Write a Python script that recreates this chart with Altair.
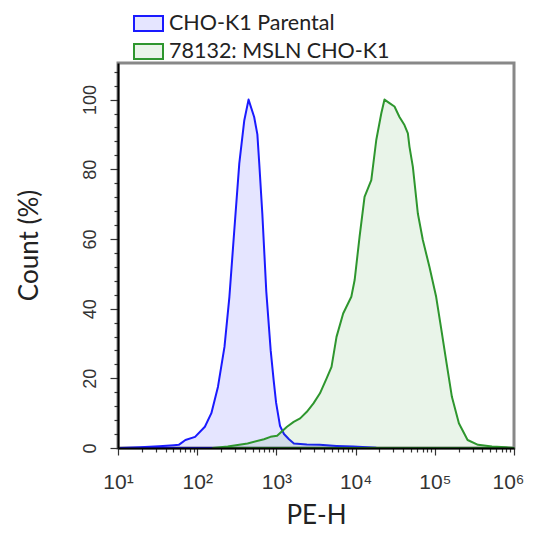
import altair as alt
import pandas as pd

# ---- data ----
series_names = ["CHO-K1 Parental", "78132: MSLN CHO-K1"]

parental_pe = [10.8, 19, 33, 51, 58.5, 71, 94, 125, 151, 183,
               221, 255, 294, 340, 393, 445, 524, 575, 610, 664,
               745, 847, 923, 991, 1112, 1247, 1442, 1663, 2421, 3516,
               5741, 9354, 18240, 58080]
parental_count = [0, 0.2, 0.5, 0.8, 0.9, 2.3, 3.2, 6.1, 10, 17.6,
                  29, 43.4, 62.5, 81.7, 94, 100, 95, 90, 81, 67.3,
                  45, 28, 19.5, 13, 6.3, 4, 2.5, 1.3, 1, 0.9,
                  0.6, 0.4, 0.1, 0]

msln_pe = [158, 243, 432, 697, 841, 1021, 1361, 1652, 1995, 2421,
           2938, 3548, 4305, 4966, 5741, 6966, 8831, 9727, 11220, 12970,
           15780, 18240, 21090, 23170, 26790, 30970, 35810, 41400, 45710, 47860,
           52840, 61090, 70630, 85510, 104000, 121100, 140900, 164400, 201400, 259400,
           351600, 527200, 792500, 990000]
msln_count = [0, 0.4, 1.3, 2.5, 3.2, 3.5, 6.1, 7.5, 8.5, 10.4,
              12.8, 15.7, 20, 23.3, 31.9, 38.6, 43.4, 48.2, 60.6, 72.1,
              76.9, 88.4, 96, 100, 99, 98, 95, 92.7, 90.3, 86.5,
              80.7, 67.3, 59.7, 52, 43.4, 33.9, 24.3, 14.7, 7.1, 2.3,
              0.9, 0.4, 0.2, 0]

x_major = [10, 100, 1000, 10000, 100000, 1000000]
x_major_labels = ["10¹", "10²", "10³", "10⁴", "10⁵", "10⁶"]
x_minor = [m * 10 ** k for k in range(1, 6) for m in range(2, 10)]
y_major = [0, 20, 40, 60, 80, 100]
y_minor = [v for v in range(0, 109, 4) if v % 20 != 0]

fill_colors = ["rgba(0,0,255,0.1)", "rgba(40,150,40,0.1)"]
stroke_colors = ["#1a1aff", "#2e962e"]

# ---- table ----
df = pd.concat([
    pd.DataFrame({"pe": parental_pe, "count": parental_count, "series": series_names[0]}),
    pd.DataFrame({"pe": msln_pe, "count": msln_count, "series": series_names[1]}),
], ignore_index=True)

x_label_expr = "".join(f"datum.value == {v} ? '{l}' : " for v, l in zip(x_major, x_major_labels)) + "''"
x_major_test = " || ".join(f"datum.value == {v}" for v in x_major)
y_major_test = " || ".join(f"datum.value == {v}" for v in y_major)

legend = alt.Legend(
    orient="none", legendX=15, legendY=-55, direction="vertical",
    symbolType="M-1,-0.52H1V0.52H-1Z", symbolSize=841, symbolStrokeWidth=2,
    labelFont="Lato", labelFontSize=21.5, labelColor="#222", labelOffset=5,
    rowPadding=0, padding=0, labelLimit=400,
)

chart = alt.Chart(df).mark_area(
    strokeWidth=2, strokeJoin="round", opacity=1, interpolate="linear"
).encode(
    x=alt.X(
        "pe:Q",
        scale=alt.Scale(type="log", domain=[10, 1000000], nice=False),
        axis=alt.Axis(
            values=sorted(x_major + x_minor), labelExpr=x_label_expr,
            title="PE-H", grid=False, zindex=1,
            domainColor="#000", domainWidth=2,
            tickColor="#333", tickWidth=1.2,
            tickSize={"condition": {"test": x_major_test, "value": 7}, "value": 4},
            labelOffset={"condition": {"test": f"datum.value == {x_major[-1]}", "value": -6}, "value": 0},
            labelFont="Liberation Sans", labelFontSize=21, labelColor="#333",
            labelPadding=16, labelFlush=False, labelOverlap=False,
            titleFont="Lato", titleFontSize=26, titleFontWeight="normal",
            titleColor="#222", titlePadding=10,
        ),
    ),
    y=alt.Y(
        "count:Q", stack=None,
        scale=alt.Scale(domain=[0, 110.5], nice=False),
        axis=alt.Axis(
            values=sorted(y_major + y_minor), labelExpr=f"({y_major_test}) ? datum.label : ''",
            title="Count (%)", grid=False, zindex=1,
            domainColor="#000", domainWidth=2,
            tickColor="#333", tickWidth=1.2,
            tickSize={"condition": {"test": y_major_test, "value": 8}, "value": 4},
            labelFont="Liberation Sans", labelFontSize=18, labelColor="#333",
            labelAngle=270, labelAlign="center", labelBaseline="alphabetic",
            labelPadding=15, labelFlush=False, labelOverlap=False,
            titleFont="Lato", titleFontSize=26, titleFontWeight="normal",
            titleColor="#222", titlePadding=39, titleY=182,
        ),
    ),
    fill=alt.Fill("series:N", title=None,
                  scale=alt.Scale(domain=series_names, range=fill_colors), legend=legend),
    stroke=alt.Stroke("series:N", title=None,
                      scale=alt.Scale(domain=series_names, range=stroke_colors), legend=legend),
).properties(
    width=396, height=385,
    autosize=alt.AutoSizeParams(type="none"),
    padding={"left": 110, "top": 55, "right": 11, "bottom": 80},
).configure_view(
    stroke="#888888", strokeWidth=3
)

chart.save("out.html", embed_options={"renderer": "svg", "actions": False})
